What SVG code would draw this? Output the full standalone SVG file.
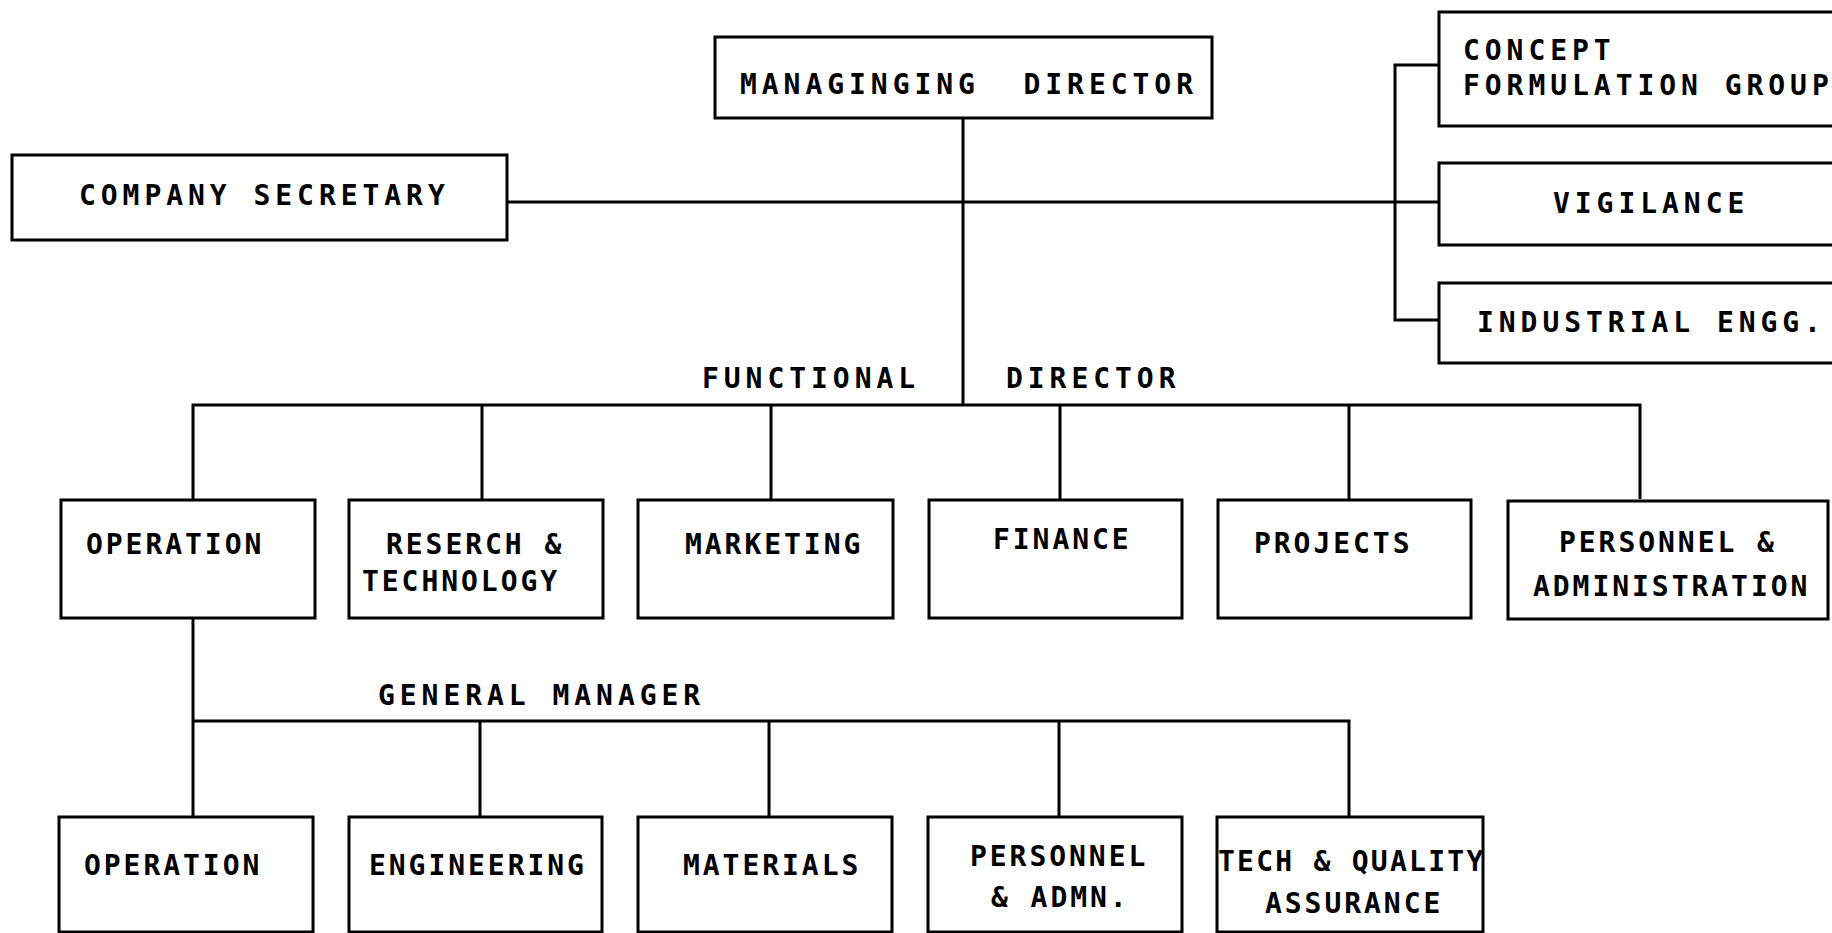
<svg xmlns="http://www.w3.org/2000/svg" width="1832" height="933" viewBox="0 0 1832 933">
<style>
.box{fill:#fff;stroke:#000;stroke-width:3}
.ln{fill:none;stroke:#000;stroke-width:3}
text{font-family:"DejaVu Sans Mono","Liberation Mono",monospace;font-size:28px;font-weight:bold;fill:#000;white-space:pre}
.t{letter-spacing:4.95px}
.s{letter-spacing:2.95px}
.n{letter-spacing:2.25px}
</style>
<rect width="1832" height="933" fill="#fff"/>
<g id="connectors">
<path class="ln" d="M963 118V405"/>
<path class="ln" d="M507 202H1439"/>
<path class="ln" d="M1439 65H1395V320H1439"/>
<path class="ln" d="M193 499V405H1640V499"/>
<path class="ln" d="M482 405V499M771 405V499M1060 405V499M1349 405V499"/>
<path class="ln" d="M193 618V817"/>
<path class="ln" d="M193 721H1349V817"/>
<path class="ln" d="M480 721V817M769 721V817M1059 721V817"/>
</g>
<g id="md"><rect class="box" x="715" y="37" width="497" height="81"/><text class="t" x="740" y="94">MANAGINGING  DIRECTOR</text></g>
<g id="secretary"><rect class="box" x="12" y="155" width="495" height="85"/><text class="t" x="79" y="205">COMPANY SECRETARY</text></g>
<g id="concept"><rect class="box" x="1439" y="12" width="410" height="114"/><text class="t" x="1463" y="60">CONCEPT</text><text class="t" x="1463" y="95">FORMULATION GROUP</text></g>
<g id="vigilance"><rect class="box" x="1439" y="163" width="410" height="82"/><text class="t" x="1553" y="213">VIGILANCE</text></g>
<g id="industrial"><rect class="box" x="1439" y="283" width="410" height="80"/><text class="t" x="1477" y="332">INDUSTRIAL ENGG.</text></g>
<g id="label-functional"><text class="t" x="702" y="388">FUNCTIONAL</text><text class="t" x="1006" y="388">DIRECTOR</text></g>
<g id="operation1"><rect class="box" x="61" y="500" width="254" height="118"/><text class="s" x="86" y="554">OPERATION</text></g>
<g id="research"><rect class="box" x="349" y="500" width="254" height="118"/><text class="s" x="386" y="554">RESERCH &amp;</text><text class="s" x="362" y="591">TECHNOLOGY</text></g>
<g id="marketing"><rect class="box" x="638" y="500" width="255" height="118"/><text class="s" x="685" y="554">MARKETING</text></g>
<g id="finance"><rect class="box" x="929" y="500" width="253" height="118"/><text class="s" x="993" y="549">FINANCE</text></g>
<g id="projects"><rect class="box" x="1218" y="500" width="253" height="118"/><text class="s" x="1254" y="553">PROJECTS</text></g>
<g id="personnel1"><rect class="box" x="1508" y="501" width="320" height="118"/><text class="s" x="1559" y="552">PERSONNEL &amp;</text><text class="s" x="1533" y="596">ADMINISTRATION</text></g>
<g id="label-gm"><text class="t" x="378" y="705">GENERAL MANAGER</text></g>
<g id="operation2"><rect class="box" x="59" y="817" width="254" height="115"/><text class="s" x="84" y="875">OPERATION</text></g>
<g id="engineering"><rect class="box" x="349" y="817" width="253" height="115"/><text class="s" x="369" y="875">ENGINEERING</text></g>
<g id="materials"><rect class="box" x="638" y="817" width="254" height="115"/><text class="s" x="683" y="875">MATERIALS</text></g>
<g id="personnel2"><rect class="box" x="928" y="817" width="254" height="115"/><text class="s" x="970" y="866">PERSONNEL</text><text class="s" x="991" y="907">&amp; ADMN.</text></g>
<g id="techqa"><rect class="box" x="1217" y="817" width="266" height="115"/><text class="n" x="1218" y="871">TECH &amp; QUALITY</text><text class="s" x="1265" y="913">ASSURANCE</text></g>
</svg>
